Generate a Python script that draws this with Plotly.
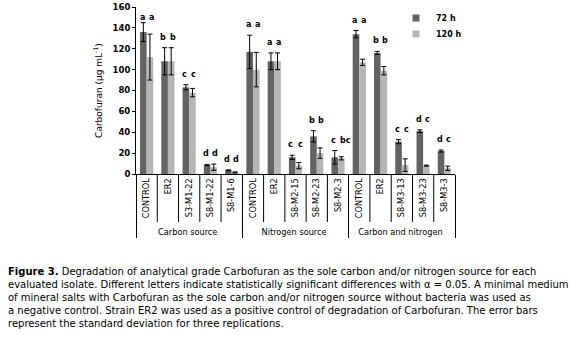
import plotly.graph_objects as go

# ---------------- data ----------------
groups = ["Carbon source"] * 5 + ["Nitrogen source"] * 5 + ["Carbon and nitrogen"] * 5
isolates = ["CONTROL", "ER2", "S3-M1-22", "S8-M1-22", "S8-M1-6",
            "CONTROL", "ER2", "S8-M2-15", "S8-M2-23", "S8-M2-3",
            "CONTROL", "ER2", "S8-M3-13", "S8-M3-23", "S8-M3-3"]
v72 = [136, 108, 83, 8.5, 3.5, 117, 108, 16, 36, 16, 134, 116, 31, 41, 22]
e72 = [9, 13, 2.5, 0.5, 0.5, 16, 8, 2, 5.5, 6.5, 3.5, 1.5, 2, 1.3, 1]
v120 = [112, 108, 78, 6.5, 1.5, 100, 108, 8, 20, 15, 107, 99, 8.5, 8, 5.5]
e120 = [22, 13, 4, 3, 0.5, 16.5, 8, 3, 5, 1.5, 3, 4, 6, 0.5, 2]
let72 = ["a", "b", "c", "d", "d", "a", "a", "c", "b", "c", "a", "b", "c", "d", "d"]
let120 = ["a", "b", "c", "d", "d", "a", "a", "c", "b", "bc", "a", "b", "c", "c", "c"]
series_names = ["72 h", "120 h"]
y_ticks = [0, 20, 40, 60, 80, 100, 120, 140, 160]

caption_lines = [
    "<b>Figure 3.</b> Degradation of analytical grade Carbofuran as the sole carbon and/or nitrogen source for each",
    "evaluated isolate. Different letters indicate statistically significant differences with \u03b1 = 0.05. A minimal medium",
    "of mineral salts with Carbofuran as the sole carbon and/or nitrogen source without bacteria was used as",
    "a negative control. Strain ER2 was used as a positive control of degradation of Carbofuran. The error bars",
    "represent the standard deviation for three replications.",
]

# ---------------- style / layout ----------------
W, H = 578, 338
ML, MR, MT, MB = 136, 123, 7, 164
PW, PH = W - ML - MR, H - MT - MB
DARK, LIGHT = "#636363", "#b5b5b5"
FONT = "DejaVu Sans"
BARGAP = 0.38
CAT_PX = PW / len(isolates)

x_mc = [groups, isolates]


def py(pix):
    """pixel row -> paper y"""
    return 1 - (pix - MT) / PH


def px(pix):
    """pixel column -> paper x"""
    return (pix - ML) / PW


fig = go.Figure()
for name, vals, errs, col in [(series_names[0], v72, e72, DARK), (series_names[1], v120, e120, LIGHT)]:
    fig.add_trace(go.Bar(
        x=x_mc, y=vals, name=name, marker_color=col, marker_line_width=0,
        error_y=dict(type="data", array=errs, color="black", thickness=1, width=2.5),
        showlegend=False,
    ))
# legend proxies with small square symbols (one legend each for exact placement)
for k, (name, col, lg) in enumerate([(series_names[0], DARK, "legend"), (series_names[1], LIGHT, "legend2")]):
    fig.add_trace(go.Scatter(x=[None], y=[None], mode="markers", name=name, legend=lg,
                             marker=dict(symbol="square", size=7, color=col)))

annotations = []
dx_cat = 4.6 / CAT_PX
for i in range(len(isolates)):
    top = max(v72[i] + e72[i], v120[i] + e120[i])
    ly = min(top + 10, 150)
    for sgn, dx, lt in [(-1, -dx_cat, let72[i]), (1, dx_cat, let120[i])]:
        annotations.append(dict(x=i + dx, y=ly, xref="x", yref="y", text="<b>%s</b>" % lt,
                                xshift=sgn * 2.5 * (len(lt) - 1),
                                showarrow=False, font=dict(size=8, family=FONT, color="black"),
                                xanchor="center", yanchor="middle"))

# caption
for k, line in enumerate(caption_lines):
    ypix = 271 + k * 13
    annotations.append(dict(x=px(6), y=py(ypix), xref="paper", yref="paper",
                            text=line, showarrow=False, xanchor="left", yanchor="middle",
                            font=dict(size=10, family=FONT, color="black")))

# inner category separators
shapes = []
for i in range(len(isolates) - 1):
    if groups[i] == groups[i + 1]:
        shapes.append(dict(type="line", xref="x", yref="paper", x0=i + 0.5, x1=i + 0.5,
                           y0=0, y1=py(222), line=dict(color="black", width=1)))

leg_common = dict(xanchor="left", yanchor="middle", bgcolor="rgba(0,0,0,0)",
                  font=dict(size=8, family=FONT, weight="bold", color="black"),
                  itemwidth=30, borderwidth=0)

fig.update_layout(
    width=W, height=H,
    margin=dict(l=ML, r=MR, t=MT, b=MB, pad=0, autoexpand=False),
    paper_bgcolor="white", plot_bgcolor="white",
    font=dict(family=FONT, size=8, color="black"),
    barmode="group", bargap=BARGAP, bargroupgap=0,
    annotations=annotations, shapes=shapes,
    legend=dict(x=px(396), y=py(18), **leg_common),
    legend2=dict(x=px(396), y=py(34), **leg_common),
    xaxis=dict(showline=True, linecolor="black", linewidth=1, tickangle=-90,
               tickfont=dict(size=8.2, family=FONT), showdividers=True,
               dividercolor="black", dividerwidth=1, ticks="", showgrid=False,
               automargin=False),
    yaxis=dict(range=[0, 160], tickvals=y_ticks, showline=True, linecolor="black", linewidth=1,
               ticks="outside", ticklen=3, tickcolor="black", showgrid=False, zeroline=False,
               tickfont=dict(size=8.5, family=FONT, weight="bold"), automargin=False,
               title=dict(text="Carbofuran (\u03bcg mL<sup>-1</sup>)", standoff=8,
                          font=dict(size=9, family=FONT))),
)

fig.write_html("out.html", config={"displayModeBar": False},
               post_script="document.body.style.margin='0';")
